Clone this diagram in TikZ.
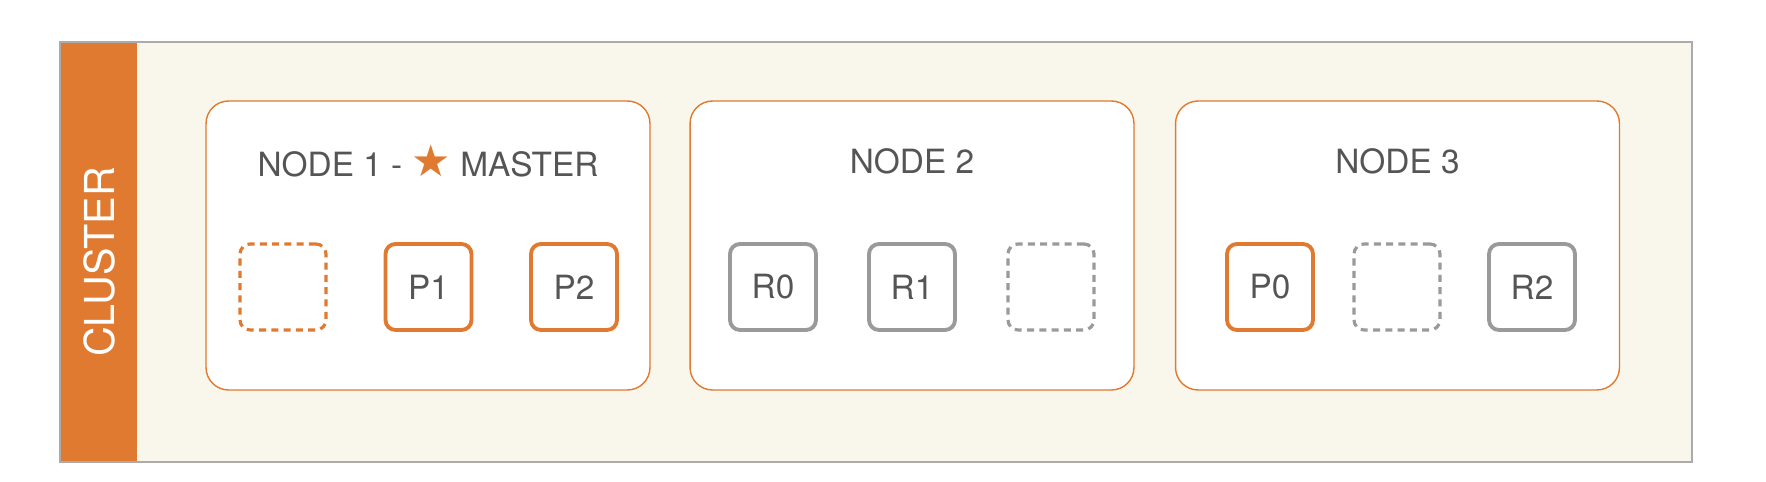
\documentclass[tikz,border=0pt]{standalone}
\usepackage{fontspec}
\setmainfont{TeX Gyre Heros}
\newfontfamily\symfont{DejaVu Sans}
\usetikzlibrary{positioning}
\definecolor{esorange}{HTML}{E07A30}
\definecolor{esgray}{HTML}{9A9A9A}
\definecolor{esline}{HTML}{ABABAB}
\definecolor{estext}{HTML}{555555}
\definecolor{escream}{HTML}{F9F7EC}
\begin{document}
\begin{tikzpicture}[x=0.02cm,y=0.02cm,
    server/.style={draw=esorange,line width=0.8pt,fill=white,rounded corners=0.45cm,
        minimum width=8.88cm,minimum height=5.78cm},
    title/.style={text=estext,font=\fontsize{19}{22}\selectfont},
    primary/.style={draw=esorange,line width=2.2pt,rounded corners=0.2cm,minimum size=1.72cm,
        text=estext,font=\fontsize{19}{22}\selectfont},
    replica/.style={primary,draw=esgray},
    freeslot/.style={line width=1.8pt,dash pattern=on 4pt off 3pt}]
    \useasboundingbox (0,0) rectangle (1766,482);

    % cluster frame and side bar
    \fill[escream] (60,20) rectangle (1692,440);
    \fill[esorange] (60,20) rectangle (137,440);
    \draw[esline,line width=1.2pt] (60,20) rectangle (1692,440);
    \node[rotate=90,text=white,font=\fontsize{23.5}{26}\selectfont] (cluster) at (99,220) {CLUSTER};

    % the three servers
    \node[server] (n1) at (428,236.5) {};
    \node[server] (n2) at (912,236.5) {};
    \node[server] (n3) at (1397.5,236.5) {};
    \node[title] (t1) at (428,321) {NODE 1 - {\symfont\fontsize{25}{22}\selectfont\color{esorange}★} MASTER};
    \node[title] (t2) at (912,321) {NODE 2};
    \node[title] (t3) at (1397.5,321) {NODE 3};

    % shards
    \node[primary,freeslot] (e1) at (283,195) {};
    \node[primary] (p1) at (428.5,195) {P1};
    \node[primary] (p2) at (574,195) {P2};

    \node[replica] (r0) at (773,195) {R0};
    \node[replica] (r1) at (912,195) {R1};
    \node[replica,freeslot] (e2) at (1051,195) {};

    \node[primary] (p0) at (1270,195) {P0};
    \node[replica,freeslot] (e3) at (1397,195) {};
    \node[replica] (r2) at (1532,195) {R2};
\end{tikzpicture}
\end{document}
